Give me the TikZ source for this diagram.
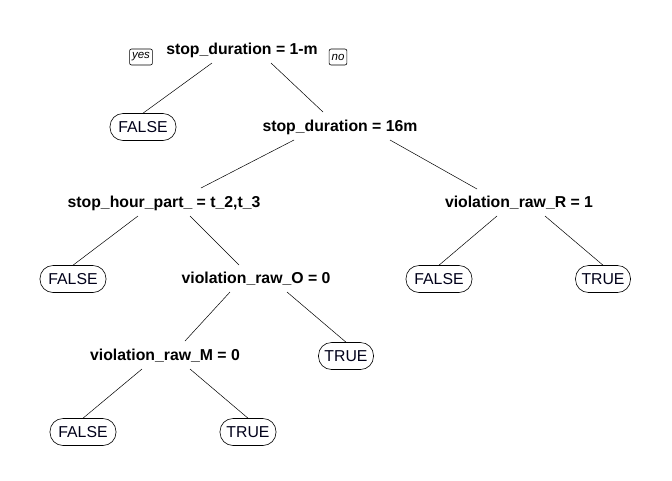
\documentclass[tikz,border=0pt]{standalone}
\usepackage{fontspec}
\setmainfont{Liberation Sans}
\begin{document}
\begin{tikzpicture}[x=1pt,y=-1pt,
  split/.style={font=\fontsize{15.8}{18}\selectfont\bfseries, inner sep=0pt, text=black},
  leaf/.style={draw, line width=0.6pt, rounded corners=13pt, minimum height=27pt, inner xsep=5pt, inner ysep=0pt,
     font=\fontsize{15.8}{18}\selectfont, text=black!90!blue},
  yn/.style={draw, line width=0.6pt, rounded corners=2pt, font=\fontsize{11.5}{13}\selectfont\itshape,
     inner xsep=2.5pt, inner ysep=0pt, minimum height=16pt},
  edge/.style={line width=0.5pt}]
\useasboundingbox (0,0) rectangle (672,480);
% split nodes
\node[split] (n1) at (242,50) {stop\_duration = 1-m};
\node[split] (n3) at (340,127) {stop\_duration = 16m};
\node[split] (n6) at (164,203) {stop\_hour\_part\_ = t\_2,t\_3};
\node[split] (n7) at (519,203) {violation\_raw\_R = 1};
\node[split] (n13) at (256,279) {violation\_raw\_O = 0};
\node[split] (n26) at (165,356) {violation\_raw\_M = 0};
% leaves
\node[leaf, minimum width=66pt] (l2) at (143,127) {FALSE};
\node[leaf, minimum width=66pt] (l12) at (73,279) {FALSE};
\node[leaf, minimum width=66pt] (l14) at (439,279) {FALSE};
\node[leaf, minimum width=55pt] (l15) at (603,279) {TRUE};
\node[leaf, minimum width=55pt] (l27) at (346,356) {TRUE};
\node[leaf, minimum width=66pt] (l52) at (83,432) {FALSE};
\node[leaf, minimum width=56pt] (l53) at (248,432) {TRUE};
% yes / no
\node[yn] (yes) at (141,57) {yes};
\node[yn] (no) at (338,57) {no};
% edge anchors
\coordinate (n1l) at (212,63); \coordinate (n1r) at (271,63);
\coordinate (n3l) at (294,140); \coordinate (n3r) at (390,140);
\coordinate (n6l) at (138,216); \coordinate (n6r) at (190,216);
\coordinate (n7l) at (497,216); \coordinate (n7r) at (545,216);
\coordinate (n13l) at (230,292); \coordinate (n13r) at (287,292);
\coordinate (n26l) at (142,369); \coordinate (n26r) at (190,369);
\coordinate (t3) at (323,112); \coordinate (t6) at (201,188);
\coordinate (t7) at (477,189); \coordinate (t13) at (239,265);
\coordinate (t26) at (185,341);
\draw[edge] (n1l) -- (l2.north);
\draw[edge] (n1r) -- (t3);
\draw[edge] (n3l) -- (t6);
\draw[edge] (n3r) -- (t7);
\draw[edge] (n6l) -- (l12.north);
\draw[edge] (n6r) -- (t13);
\draw[edge] (n7l) -- (l14.north);
\draw[edge] (n7r) -- (l15.north);
\draw[edge] (n13l) -- (t26);
\draw[edge] (n13r) -- (l27.north);
\draw[edge] (n26l) -- (l52.north);
\draw[edge] (n26r) -- (l53.north);
\end{tikzpicture}
\end{document}
